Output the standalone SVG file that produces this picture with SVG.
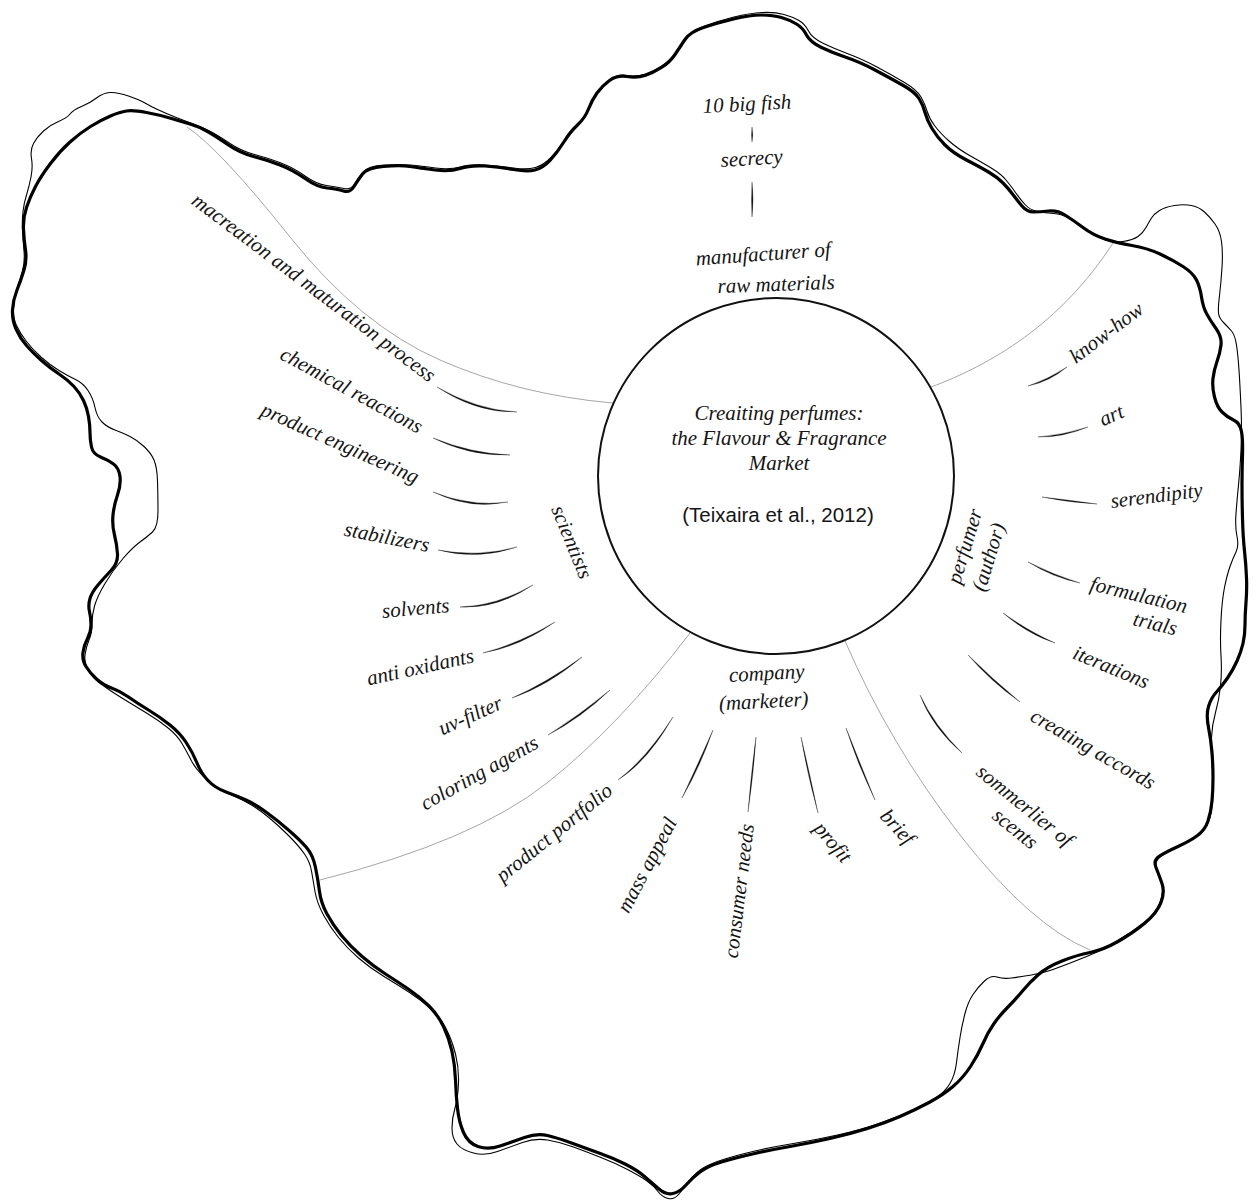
<svg xmlns="http://www.w3.org/2000/svg" width="1257" height="1202" viewBox="0 0 1257 1202">
  <style>
    .lbl { font-family: "Liberation Serif", "DejaVu Serif", serif; font-style: italic; font-size: 21px; fill: #151515; }
    .cite { font-family: "Liberation Sans", Arial, sans-serif; font-size: 20.5px; fill: #151515; }
    .tick { fill: #111; stroke: #111; stroke-width: 0.3; }
    .sect { fill: none; stroke: #a6a6a6; stroke-width: 1; }
    .rim-thick { fill: none; stroke: #000; stroke-width: 3.2; stroke-linejoin: round; }
    .rim-thin { fill: none; stroke: #000; stroke-width: 1.1; stroke-linejoin: round; }
  </style>

  <!-- hand-drawn island outline: a bold line and a looser thin echo -->
  <g id="outline">
    <path class="rim-thick" d="M126.5,111 Q133,110 146.5,112.5 Q160,115 171.5,118.5 Q183,122 191.5,124.5 Q200,127 208.5,132 Q217,137 228.5,145 Q240,153 253.5,156.5 Q267,160 280,165 Q293,170 305,178.5 Q317,187 327,188 Q337,189 343.5,191 Q350,193 354,186.5 Q358,180 362.5,174 Q367,168 383.5,166.5 Q400,165 410,166.5 Q420,168 435,170 Q450,172 460,168.5 Q470,165 485,166 Q500,167 513.5,169.5 Q527,172 535,170 Q543,168 550,160.5 Q557,153 563.5,142.5 Q570,132 577.5,125 Q585,118 588.5,109 Q592,100 597,93 Q602,86 609.5,80.5 Q617,75 627,76.5 Q637,78 645,75.5 Q653,73 661.5,67.5 Q670,62 675,54.5 Q680,47 685,39.5 Q690,32 703.5,27.5 Q717,23 733.5,19 Q750,15 761.5,15 Q773,15 781.5,17.5 Q790,20 796.5,24 Q803,28 806.5,35 Q810,42 821.5,47.5 Q833,53 846.5,57.5 Q860,62 875,70 Q890,78 902.5,85 Q915,92 919,98.5 Q923,105 925,112.5 Q927,120 932,128.5 Q937,137 945,145 Q953,153 966.5,160 Q980,167 988.5,172 Q997,177 1002.5,182.5 Q1008,188 1012.5,194 Q1017,200 1022,206 Q1027,212 1033.5,212 Q1040,212 1048.5,211 Q1057,210 1065,215 Q1073,220 1083,227.5 Q1093,235 1105,239 Q1117,243 1132,245.5 Q1147,248 1160,254 Q1173,260 1183,266.5 Q1193,273 1196.5,280 Q1200,287 1201.5,297 Q1203,307 1206.5,313.5 Q1210,320 1216,328.5 Q1222,337 1221,345 Q1220,353 1217,361.5 Q1214,370 1213,378.5 Q1212,387 1214.5,397 Q1217,407 1222,412 Q1227,417 1233.5,420 Q1240,423 1241.5,431.5 Q1243,440 1242.5,455 Q1242,470 1242,485 Q1242,500 1242.5,518.5 Q1243,537 1244.5,551 Q1246,565 1246.5,577.5 Q1247,590 1246,602.5 Q1245,615 1245,625 Q1245,635 1243,643.5 Q1241,652 1237,661 Q1233,670 1227.5,678 Q1222,686 1216.5,692 Q1211,698 1208.5,706.5 Q1206,715 1208.5,727.5 Q1211,740 1212,752.5 Q1213,765 1213,777.5 Q1213,790 1212,801 Q1211,812 1208,821 Q1205,830 1197.5,835.5 Q1190,841 1178,846.5 Q1166,852 1159.5,856 Q1153,860 1156,867.5 Q1159,875 1162,883.5 Q1165,892 1161,902.5 Q1157,913 1145,923 Q1133,933 1118,941.5 Q1103,950 1090,952.5 Q1077,955 1062,961 Q1047,967 1038.5,974.5 Q1030,982 1022.5,991 Q1015,1000 1007.5,1007.5 Q1000,1015 994,1023.5 Q988,1032 983,1043.5 Q978,1055 970.5,1066.5 Q963,1078 953,1086.5 Q943,1095 929,1102.5 Q915,1110 900,1116.5 Q885,1123 867.5,1128.5 Q850,1134 830,1138.5 Q810,1143 790,1146.5 Q770,1150 752.5,1154 Q735,1158 721.5,1162 Q708,1166 700,1172 Q692,1178 686,1185 Q680,1192 673,1193.5 Q666,1195 659,1189 Q652,1183 644.5,1176.5 Q637,1170 625,1164 Q613,1158 599,1153 Q585,1148 571.5,1143 Q558,1138 547.5,1135.5 Q537,1133 524.5,1137.5 Q512,1142 500,1146 Q488,1150 478,1146.5 Q468,1143 463.5,1132.5 Q459,1122 457.5,1108.5 Q456,1095 455.5,1080 Q455,1065 452,1051.5 Q449,1038 443.5,1026.5 Q438,1015 429,1006 Q420,997 409,989.5 Q398,982 385.5,974 Q373,966 361.5,956 Q350,946 341.5,935.5 Q333,925 327,914 Q321,903 319.5,891.5 Q318,880 315.5,867.5 Q313,855 306.5,847.5 Q300,840 288.5,830 Q277,820 266,812 Q255,804 246,800 Q237,796 226,792 Q215,788 208,780.5 Q201,773 197,763 Q193,753 186.5,743 Q180,733 170,725 Q160,717 148.5,710 Q137,703 128.5,697 Q120,691 111.5,688 Q103,685 96.5,679 Q90,673 86,666.5 Q82,660 83,652.5 Q84,645 87.5,638.5 Q91,632 91,625 Q91,618 89.5,611.5 Q88,605 90,598.5 Q92,592 98,585 Q104,578 111,570.5 Q118,563 117.5,554 Q117,545 114.5,535 Q112,525 113,515 Q114,505 117.5,495 Q121,485 120,476.5 Q119,468 113.5,464 Q108,460 100.5,457 Q93,454 91.5,447 Q90,440 90,432.5 Q90,425 88.5,416.5 Q87,408 83.5,400.5 Q80,393 74,386.5 Q68,380 59,374 Q50,368 41.5,360.5 Q33,353 26.5,345.5 Q20,338 16,329 Q12,320 12.5,310 Q13,300 17,290 Q21,280 24,270 Q27,260 25.5,250 Q24,240 23.5,229 Q23,218 26.5,207.5 Q30,197 35.5,186.5 Q41,176 50.5,163.5 Q60,151 70,142 Q80,133 90.5,126.5 Q101,120 110.5,116 Q120,112 126.5,111 Z"/>
    <path class="rim-thin" d="M145,103 Q150,106 157.5,109.5 Q165,113 175,117 Q185,121 193.5,124 Q202,127 210.5,131.5 Q219,136 230,143.5 Q241,151 254.5,154.5 Q268,158 281,163 Q294,168 305,176 Q316,184 326.5,185.5 Q337,187 344,188.5 Q351,190 354.5,184 Q358,178 363,172 Q368,166 384,165 Q400,164 410.5,165 Q421,166 435.5,168 Q450,170 460,167 Q470,164 485,165 Q500,166 513.5,168 Q527,170 535.5,167.5 Q544,165 551,157.5 Q558,150 565,140 Q572,130 579.5,122.5 Q587,115 590,106.5 Q593,98 598.5,91 Q604,84 611,79 Q618,74 627.5,75.5 Q637,77 645.5,74 Q654,71 662.5,65.5 Q671,60 676,53 Q681,46 686,38.5 Q691,31 704.5,26 Q718,21 734,17 Q750,13 762.5,12.5 Q775,12 784,14.5 Q793,17 799,20.5 Q805,24 808.5,31 Q812,38 823.5,43.5 Q835,49 848.5,54 Q862,59 877,67 Q892,75 904.5,82.5 Q917,90 921,97 Q925,104 927,111 Q929,118 934.5,125.5 Q940,133 949,141 Q958,149 970.5,156 Q983,163 992,168.5 Q1001,174 1006,180 Q1011,186 1015.5,192.5 Q1020,199 1025,204.5 Q1030,210 1037.5,211.5 Q1045,213 1053.5,213.5 Q1062,214 1070,219 Q1078,224 1087,230 Q1096,236 1104.5,239.5 Q1113,243 1123,241.5 Q1133,240 1138,236.5 Q1143,233 1146,227.5 Q1149,222 1151.5,218 Q1154,214 1159.5,210.5 Q1165,207 1174.5,205.5 Q1184,204 1191.5,205.5 Q1199,207 1204.5,212 Q1210,217 1215,224 Q1220,231 1221.5,241.5 Q1223,252 1222,267.5 Q1221,283 1219.5,295.5 Q1218,308 1218.5,313 Q1219,318 1223.5,322.5 Q1228,327 1231.5,331 Q1235,335 1236.5,345 Q1238,355 1239,370 Q1240,385 1241,407.5 Q1242,430 1241,450 Q1240,470 1238.5,485 Q1237,500 1236,513.5 Q1235,527 1237,536.5 Q1239,546 1236,552 Q1233,558 1230,566.5 Q1227,575 1224.5,587.5 Q1222,600 1221,620 Q1220,640 1221,656 Q1222,672 1220.5,686 Q1219,700 1215.5,712.5 Q1212,725 1211.5,737.5 Q1211,750 1212,762.5 Q1213,775 1213,787.5 Q1213,800 1211.5,810 Q1210,820 1206.5,826 Q1203,832 1195.5,837 Q1188,842 1176.5,847.5 Q1165,853 1159.5,857.5 Q1154,862 1157,869.5 Q1160,877 1162,885 Q1164,893 1159.5,903.5 Q1155,914 1143,923.5 Q1131,933 1115.5,942 Q1100,951 1089,955.5 Q1078,960 1069,963.5 Q1060,967 1051.5,970 Q1043,973 1031.5,975 Q1020,977 1011.5,978 Q1003,979 997,977 Q991,975 984.5,981 Q978,987 973,994.5 Q968,1002 965,1013.5 Q962,1025 960,1037.5 Q958,1050 956.5,1062.5 Q955,1075 950,1083.5 Q945,1092 935,1098.5 Q925,1105 910,1111.5 Q895,1118 877.5,1124 Q860,1130 837.5,1135 Q815,1140 793.5,1143.5 Q772,1147 755,1151 Q738,1155 725,1159 Q712,1163 704,1167.5 Q696,1172 690,1180 Q684,1188 679,1194 Q674,1200 668,1198.5 Q662,1197 658,1191.5 Q654,1186 647,1181 Q640,1176 627.5,1169.5 Q615,1163 601,1157.5 Q587,1152 573.5,1147 Q560,1142 547.5,1140 Q535,1138 522.5,1142.5 Q510,1147 497.5,1151.5 Q485,1156 473.5,1153 Q462,1150 457,1144 Q452,1138 452,1128 Q452,1118 455,1108 Q458,1098 458.5,1083 Q459,1068 455.5,1054 Q452,1040 446,1028.5 Q440,1017 430.5,1008.5 Q421,1000 409.5,992.5 Q398,985 384,976.5 Q370,968 358.5,958 Q347,948 338.5,937.5 Q330,927 323.5,915 Q317,903 315,891.5 Q313,880 311.5,871 Q310,862 304.5,854 Q299,846 289,836 Q279,826 269.5,818 Q260,810 251.5,805 Q243,800 235,796.5 Q227,793 219.5,789 Q212,785 203.5,776.5 Q195,768 191,760 Q187,752 182,743.5 Q177,735 167.5,727.5 Q158,720 146.5,713 Q135,706 126,700.5 Q117,695 111,691 Q105,687 98.5,682 Q92,677 88,670 Q84,663 85,655 Q86,647 89,640 Q92,633 92,624 Q92,615 94.5,606 Q97,597 105,583.5 Q113,570 123,558.5 Q133,547 140,542 Q147,537 152.5,532 Q158,527 158,511 Q158,495 157.5,481 Q157,467 154,460 Q151,453 144,446.5 Q137,440 130,436.5 Q123,433 115,430 Q107,427 102,422 Q97,417 95,407.5 Q93,398 88,390.5 Q83,383 75.5,379.5 Q68,376 59,370.5 Q50,365 41.5,357.5 Q33,350 26.5,341.5 Q20,333 16.5,325.5 Q13,318 13.5,308 Q14,298 17,289 Q20,280 22.5,271 Q25,262 24,251 Q23,240 22.5,230 Q22,220 23,211.5 Q24,203 26.5,195 Q29,187 31,177 Q33,167 31.5,158.5 Q30,150 33.5,143.5 Q37,137 43.5,131 Q50,125 58.5,121.5 Q67,118 70,114 Q73,110 81.5,106.5 Q90,103 96.5,98 Q103,93 110,92.5 Q117,92 128.5,96 Q140,100 145,103 Z"/>
  </g>

  <!-- connectors: sector boundaries and tapered brush strokes -->
  <g id="connectors">
    <path class="sect" d="M613,403 Q520,395 440,360 T290,237 T187,127"/>
    <path class="sect" d="M931,387 C990,365 1060,325 1113,243"/>
    <path class="sect" d="M690,633 Q620,725 547,783 T320,880"/>
    <path class="sect" d="M845,641 Q890,745 960,835 T1090,950"/>

    <path class="tick" d="M752,127 Q751,134.5 752,142 Q753.6,134.5 752,127Z"/>
    <path class="tick" d="M752,182 Q751,199.5 752,217 Q754,199.5 752,182Z"/>

    <path class="tick" d="M437,387 Q477,410 517,412 Q476,413 437,387Z"/>
    <path class="tick" d="M433,438 Q471.5,453.5 510,455 Q470.5,456.5 433,438Z"/>
    <path class="tick" d="M433,492 Q470.5,507 508,502 Q470,510 433,492Z"/>
    <path class="tick" d="M438,550 Q477.5,557.5 517,547 Q477.5,560.5 438,550Z"/>
    <path class="tick" d="M460,607 Q496.5,606 533,585 Q497.5,609 460,607Z"/>
    <path class="tick" d="M483,653 Q519,643.5 555,622 Q520,646.5 483,653Z"/>
    <path class="tick" d="M512,698 Q547,682.5 582,657 Q548.5,685.5 512,698Z"/>
    <path class="tick" d="M548,735 Q579,715.5 610,690 Q581,718 548,735Z"/>

    <path class="tick" d="M618,780 Q645.5,759.5 673,717 Q648,761 618,780Z"/>
    <path class="tick" d="M682,798 Q697,766 713,730 Q700,767 682,798Z"/>
    <path class="tick" d="M748,812 Q751,774.5 756,737 Q753.5,774.5 748,812Z"/>
    <path class="tick" d="M818,813 Q807.5,775 801,737 Q810,775 818,813Z"/>
    <path class="tick" d="M875,800 Q857.5,764 846,728 Q860,763 875,800Z"/>

    <path class="tick" d="M1028,386 Q1047.5,379.5 1067,367 Q1049,382 1028,386Z"/>
    <path class="tick" d="M1038,437 Q1063,435 1088,427 Q1063,437.5 1038,437Z"/>
    <path class="tick" d="M1042,497 Q1069,500 1097,504 Q1069,502.5 1042,497Z"/>
    <path class="tick" d="M1028,562 Q1054,575 1080,583 Q1053,577.5 1028,562Z"/>
    <path class="tick" d="M1003,613 Q1029,631.5 1055,643 Q1027.5,634 1003,613Z"/>
    <path class="tick" d="M968,655 Q993.5,680 1020,702 Q992,682.5 968,655Z"/>
    <path class="tick" d="M920,695 Q934,725 962,753 Q932,727 920,695Z"/>
  </g>

  <!-- central topic -->
  <g id="center">
    <circle cx="776" cy="476" r="178" fill="none" stroke="#111" stroke-width="2"/>
    <text class="lbl" text-anchor="middle" x="779" y="420">Creaiting perfumes:</text>
    <text class="lbl" text-anchor="middle" x="779" y="445">the Flavour &amp; Fragrance</text>
    <text class="lbl" text-anchor="middle" x="779" y="470">Market</text>
    <text class="cite" text-anchor="middle" x="778" y="522">(Teixaira et al., 2012)</text>
  </g>

  <!-- raw material manufacturers -->
  <g id="n-fish"><text class="lbl" transform="translate(703,113) rotate(-3)">10 big fish</text></g>
  <g id="n-secrecy"><text class="lbl" transform="translate(721,167) rotate(-3.5)">secrecy</text></g>
  <g id="n-manufacturer">
    <text class="lbl" text-anchor="end" transform="translate(831,256) rotate(-4)">manufacturer of</text>
    <text class="lbl" text-anchor="end" transform="translate(835,289) rotate(-2)">raw materials</text>
  </g>

  <!-- scientists -->
  <g id="n-scientists"><text class="lbl" transform="translate(551,509) rotate(67.7)">scientists</text></g>
  <g id="n-macreation"><text class="lbl" text-anchor="end" transform="translate(429,383) rotate(37)">macreation and maturation process</text></g>
  <g id="n-chemical"><text class="lbl" text-anchor="end" transform="translate(418,434) rotate(28.5)">chemical reactions</text></g>
  <g id="n-engineering"><text class="lbl" text-anchor="end" transform="translate(415,484) rotate(24)">product engineering</text></g>
  <g id="n-stabilizers"><text class="lbl" text-anchor="end" transform="translate(428,552) rotate(11)">stabilizers</text></g>
  <g id="n-solvents"><text class="lbl" text-anchor="end" transform="translate(450,612) rotate(-5)">solvents</text></g>
  <g id="n-antioxidants"><text class="lbl" text-anchor="end" transform="translate(475,662) rotate(-12.5)">anti oxidants</text></g>
  <g id="n-uvfilter"><text class="lbl" text-anchor="end" transform="translate(504,708) rotate(-24)">uv-filter</text></g>
  <g id="n-coloring"><text class="lbl" text-anchor="end" transform="translate(540,747) rotate(-29)">coloring agents</text></g>

  <!-- company (marketer) -->
  <g id="n-company">
    <text class="lbl" text-anchor="middle" transform="translate(767,680) rotate(-3)">company</text>
    <text class="lbl" text-anchor="middle" transform="translate(764,708) rotate(-3)">(marketer)</text>
  </g>
  <g id="n-portfolio"><text class="lbl" text-anchor="end" transform="translate(614,793) rotate(-39)">product portfolio</text></g>
  <g id="n-mass"><text class="lbl" text-anchor="end" transform="translate(677.5,822) rotate(-62)">mass appeal</text></g>
  <g id="n-consumer"><text class="lbl" text-anchor="end" transform="translate(754,825) rotate(-83)">consumer needs</text></g>
  <g id="n-profit"><text class="lbl" transform="translate(813,829) rotate(50)">profit</text></g>
  <g id="n-brief"><text class="lbl" transform="translate(879,817) rotate(47)">brief</text></g>

  <!-- perfumer (author) -->
  <g id="n-perfumer">
    <text class="lbl" transform="translate(960,585) rotate(-73)"><tspan x="0" y="0">perfumer</tspan><tspan x="0" y="26">(author)</tspan></text>
  </g>
  <g id="n-knowhow"><text class="lbl" transform="translate(1076,364) rotate(-37)">know-how</text></g>
  <g id="n-art"><text class="lbl" transform="translate(1103,426.5) rotate(-24)">art</text></g>
  <g id="n-serendipity"><text class="lbl" transform="translate(1111.5,508) rotate(-7)">serendipity</text></g>
  <g id="n-formulation">
    <text class="lbl" transform="translate(1089,590) rotate(13.5)"><tspan x="0" y="0">formulation</tspan><tspan x="50" y="24">trials</tspan></text>
  </g>
  <g id="n-iterations"><text class="lbl" transform="translate(1071.5,658) rotate(22.5)">iterations</text></g>
  <g id="n-accords"><text class="lbl" transform="translate(1029,720) rotate(30)">creating accords</text></g>
  <g id="n-sommerlier">
    <text class="lbl" transform="translate(975,774) rotate(39)"><tspan x="0" y="0">sommerlier of</tspan><tspan x="40" y="24">scents</tspan></text>
  </g>
</svg>
